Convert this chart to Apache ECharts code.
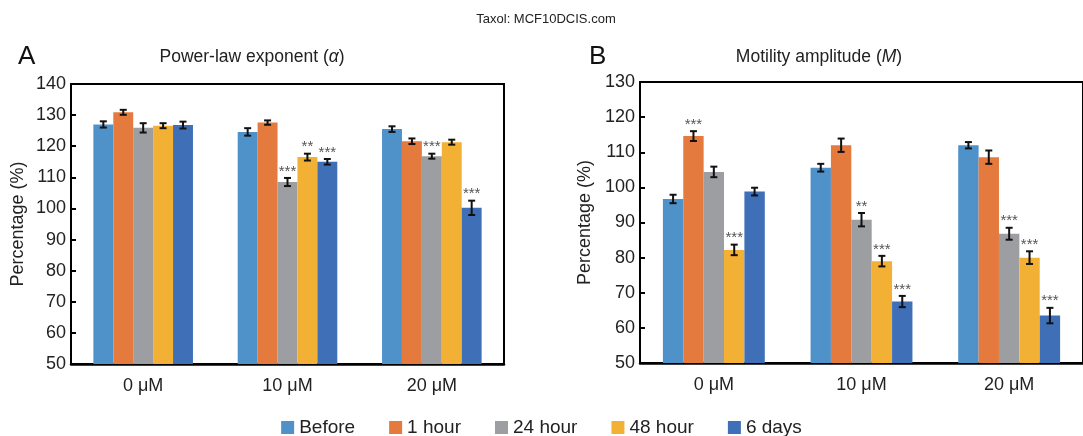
<!DOCTYPE html>
<html><head><meta charset="utf-8">
<script src="https://cdn.jsdelivr.net/npm/echarts@6/dist/echarts.min.js"></script>
<style>html,body{margin:0;padding:0;background:#fff}#c{width:1083px;height:436px}</style>
</head><body><div id="c"></div>
<script>
const categories = ['0 μM', '10 μM', '20 μM'];
const seriesNames = ['Before', '1 hour', '24 hour', '48 hour', '6 days'];
const colors = ['#4f91c9', '#e57a3e', '#9c9ea1', '#f2b134', '#3e6fb7'];

// Panel A: Power-law exponent (alpha)
const alphaBefore = [127.0, 124.6, 125.5];
const alpha1h     = [130.9, 127.6, 121.6];
const alpha24h    = [125.9, 108.5, 116.8];
const alpha48h    = [126.6, 116.5, 121.3];
const alpha6d     = [126.8, 115.0, 100.2];
const alphaErrBefore = [1.0, 1.2, 0.9];
const alphaErr1h     = [0.8, 0.7, 0.9];
const alphaErr24h    = [1.5, 1.3, 0.8];
const alphaErr48h    = [0.8, 1.1, 0.8];
const alphaErr6d     = [1.1, 0.9, 2.3];
const alphaSigBefore = ['', '', ''];
const alphaSig1h     = ['', '', ''];
const alphaSig24h    = ['', '***', '***'];
const alphaSig48h    = ['', '**', ''];
const alphaSig6d     = ['', '***', '***'];

// Panel B: Motility amplitude (M)
const mBefore = [96.7, 105.6, 112.0];
const m1h     = [114.6, 112.0, 108.6];
const m24h    = [104.4, 90.8, 86.8];
const m48h    = [82.2, 79.0, 80.0];
const m6d     = [98.8, 67.5, 63.5];
const mErrBefore = [1.2, 1.1, 0.9];
const mErr1h     = [1.4, 1.9, 1.9];
const mErr24h    = [1.5, 1.9, 1.7];
const mErr48h    = [1.5, 1.5, 1.8];
const mErr6d     = [1.1, 1.6, 2.2];
const mSigBefore = ['', '', ''];
const mSig1h     = ['***', '', ''];
const mSig24h    = ['', '**', '***'];
const mSig48h    = ['***', '***', '***'];
const mSig6d     = ['', '***', '***'];

const yTicksA = {min: 50, max: 140, interval: 10};
const yTicksB = {min: 50, max: 130, interval: 10};

const panelA = {vals: [alphaBefore, alpha1h, alpha24h, alpha48h, alpha6d],
  errs: [alphaErrBefore, alphaErr1h, alphaErr24h, alphaErr48h, alphaErr6d],
  sigs: [alphaSigBefore, alphaSig1h, alphaSig24h, alphaSig48h, alphaSig6d]};
const panelB = {vals: [mBefore, m1h, m24h, m48h, m6d],
  errs: [mErrBefore, mErr1h, mErr24h, mErr48h, mErr6d],
  sigs: [mSigBefore, mSig1h, mSig24h, mSig48h, mSig6d]};

const GAP = 0.31;
const font = '"Liberation Sans", Arial, sans-serif';

function errRender(panel, i) {
  return function (params, api) {
    const cat = api.value(0), v = api.value(1), e = api.value(2);
    const star = panel.sigs[i][params.dataIndex];
    const bw = api.size([1, 0])[0];
    const barW = bw * (1 - GAP) / 5;
    const cx = api.coord([cat, v])[0] + (i - 2) * barW;
    const yt = api.coord([cat, v + e])[1];
    const yb = api.coord([cat, v - e])[1];
    const cap = 3.5;
    const st = {stroke: '#111', lineWidth: 2};
    const children = [
      {type: 'line', shape: {x1: cx, y1: yt, x2: cx, y2: yb}, style: st},
      {type: 'line', shape: {x1: cx - cap, y1: yt, x2: cx + cap, y2: yt}, style: st},
      {type: 'line', shape: {x1: cx - cap, y1: yb, x2: cx + cap, y2: yb}, style: st}
    ];
    if (star) {
      children.push({type: 'text', style: {text: star, x: cx, y: yt + 1, align: 'center', verticalAlign: 'bottom',
        fill: '#555', font: '15px ' + font}});
    }
    return {type: 'group', children: children};
  };
}

function buildSeries(panel, axisIdx) {
  const out = [];
  panel.vals.forEach((vals, i) => {
    out.push({type: 'bar', name: seriesNames[i], xAxisIndex: axisIdx, yAxisIndex: axisIdx,
      data: vals, barGap: '0%', barCategoryGap: (GAP * 100) + '%',
      itemStyle: {color: colors[i]}, emphasis: {disabled: true}, silent: true});
  });
  panel.vals.forEach((vals, i) => {
    out.push({type: 'custom', name: 'err' + axisIdx + '_' + i, xAxisIndex: axisIdx, yAxisIndex: axisIdx,
      renderItem: errRender(panel, i), z: 10, silent: true,
      data: vals.map((v, k) => [k, v, panel.errs[i][k]])});
  });
  return out;
}

function xAxis(gi) {
  return {type: 'category', data: categories, gridIndex: gi,
    axisLine: {lineStyle: {color: '#000', width: 2.5}}, axisTick: {show: false},
    axisLabel: {color: '#222', fontSize: 18, fontFamily: font, margin: 13}};
}
function yAxis(gi, t, gap) {
  return {type: 'value', gridIndex: gi, min: t.min, max: t.max, interval: t.interval,
    name: 'Percentage (%)', nameLocation: 'middle', nameGap: gap,
    nameTextStyle: {fontSize: 18, color: '#222', fontFamily: font},
    axisLine: {show: true, lineStyle: {color: '#000', width: 2}},
    axisTick: {show: true, inside: true, length: 5, lineStyle: {color: '#000', width: 2}},
    splitLine: {show: false},
    axisLabel: {color: '#222', fontSize: 18, fontFamily: font, margin: 5}};
}

const chart = echarts.init(document.getElementById('c'), null, {renderer: 'canvas'});
chart.setOption({
  animation: false,
  backgroundColor: '#fff',
  title: [
    {text: 'Taxol: MCF10DCIS.com', left: 541, textAlign: 'center', top: 8,
      textStyle: {fontSize: 13, fontWeight: 'normal', color: '#222', fontFamily: font}},
    {text: 'A', left: 13, top: 39, textStyle: {fontSize: 26, fontWeight: 'normal', color: '#111', fontFamily: font}},
    {text: 'B', left: 584, top: 39, textStyle: {fontSize: 26, fontWeight: 'normal', color: '#111', fontFamily: font}},
    {text: 'Power-law exponent ({i|α})', left: 247, textAlign: 'center', top: 43,
      textStyle: {fontSize: 17.5, fontWeight: 'normal', color: '#222', fontFamily: font,
        rich: {i: {fontStyle: 'italic', fontSize: 17.5, color: '#222', fontFamily: font}}}},
    {text: 'Motility amplitude ({i|M})', left: 814, textAlign: 'center', top: 43,
      textStyle: {fontSize: 17.5, fontWeight: 'normal', color: '#222', fontFamily: font,
        rich: {i: {fontStyle: 'italic', fontSize: 17.5, color: '#222', fontFamily: font}}}}
  ],
  legend: {data: seriesNames, left: 'center', top: 413, icon: 'rect', itemWidth: 13, itemHeight: 13,
    itemGap: 34, textStyle: {fontSize: 19, color: '#222', fontFamily: font}},
  grid: [
    {left: 71, top: 84, width: 433, height: 280, show: true, borderColor: '#000', borderWidth: 2},
    {left: 640, top: 82, width: 450, height: 281, show: true, borderColor: '#000', borderWidth: 2}
  ],
  xAxis: [xAxis(0), xAxis(1)],
  yAxis: [yAxis(0, yTicksA, 44), yAxis(1, yTicksB, 46)],
  series: buildSeries(panelA, 0).concat(buildSeries(panelB, 1))
});
</script></body></html>
